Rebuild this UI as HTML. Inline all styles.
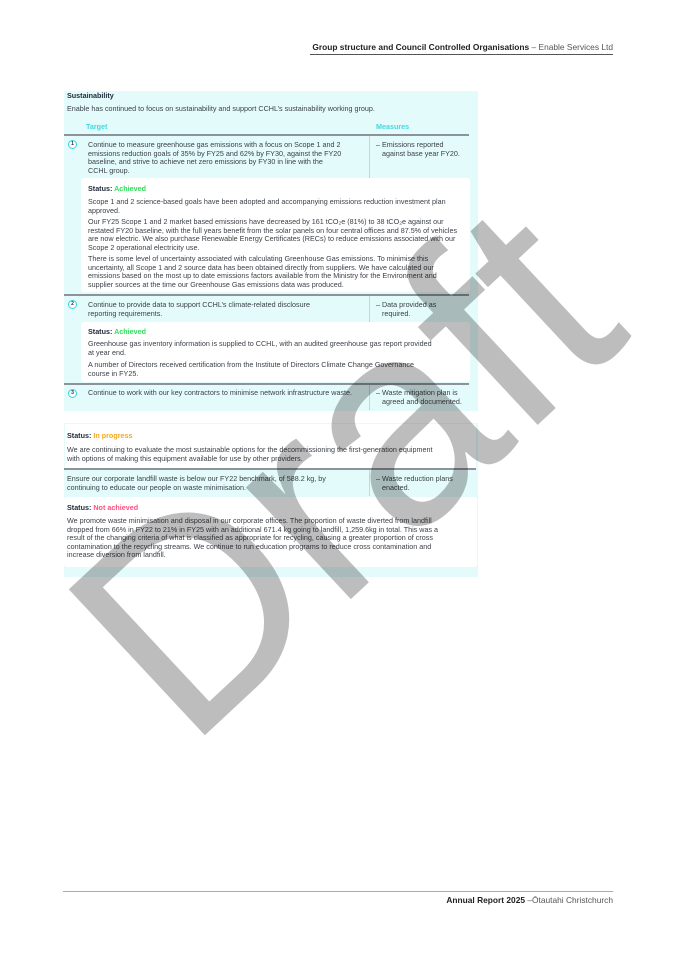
<!DOCTYPE html>
<html><head><meta charset="utf-8">
<style>
*{margin:0;padding:0;box-sizing:border-box}
body{width:675px;height:955px;background:#fff;position:relative;overflow:hidden;font-family:"Liberation Sans",sans-serif;color:#3a3f47}
.a{position:absolute;white-space:nowrap}
.t{font-size:7.2px;line-height:8.6px}
.b{font-weight:bold;color:#1d2838}
.cy{background:#e4fbfb}
.wh{background:#fff}
.ln{position:absolute;height:1.5px;background:#8d939b}
.vl{position:absolute;width:1px;background:#c8d4d6}
.circ{position:absolute;width:9px;height:9px;border:1.3px solid #35d6de;border-radius:50%;font-size:5px;font-weight:bold;text-align:center;line-height:6.5px;color:#1d2838;background:#fff}
.ach{color:#2fe05a}
</style></head><body>
<div class="a" style="right:62px;top:42px;font-size:8.4px;color:#222"><b>Group structure and Council Controlled Organisations</b> <span style="color:#555">– Enable Services Ltd</span></div>
<div style="position:absolute;left:310px;top:54px;width:303px;height:1px;background:#555"></div>

<!-- panel 1 -->
<div class="a cy" style="left:64px;top:91px;width:414px;height:320px"></div>
<div class="a t b" style="left:67px;top:92px">Sustainability</div>
<div class="a t" style="left:67px;top:105px">Enable has continued to focus on sustainability and support CCHL’s sustainability working group.</div>
<div class="a t b" style="left:86px;top:123px;color:#3fd9e0">Target</div>
<div class="a t b" style="left:376px;top:123px;color:#3fd9e0">Measures</div>
<div class="ln" style="left:64px;top:134px;width:405px"></div>
<div class="vl" style="left:369px;top:136px;height:42px"></div>
<div class="circ" style="left:68px;top:140px">1</div>
<div class="a t" style="left:88px;top:141px">Continue to measure greenhouse gas emissions with a focus on Scope 1 and 2<br>emissions reduction goals of 35% by FY25 and 62% by FY30, against the FY20<br>baseline, and strive to achieve net zero emissions by FY30 in line with the<br>CCHL group.</div>
<div class="a t" style="left:376px;top:141px">– Emissions reported<br>&nbsp;&nbsp;&nbsp;against base year FY20.</div>
<div class="a wh" style="left:81px;top:178px;width:389px;height:114px;border-radius:3px"></div>
<div class="a t b" style="left:88px;top:185px">Status: <span class="ach">Achieved</span></div>
<div class="a t" style="left:88px;top:198px">Scope 1 and 2 science-based goals have been adopted and accompanying emissions reduction investment plan<br>approved.</div>
<div class="a t" style="left:88px;top:218px">Our FY25 Scope 1 and 2 market based emissions have decreased by 161 tCO₂e (81%) to 38 tCO₂e against our<br>restated FY20 baseline, with the full years benefit from the solar panels on four central offices and 87.5% of vehicles<br>are now electric. We also purchase Renewable Energy Certificates (RECs) to reduce emissions associated with our<br>Scope 2 operational electricity use.</div>
<div class="a t" style="left:88px;top:255px">There is some level of uncertainty associated with calculating Greenhouse Gas emissions. To minimise this<br>uncertainty, all Scope 1 and 2 source data has been obtained directly from suppliers. We have calculated our<br>emissions based on the most up to date emissions factors available from the Ministry for the Environment and<br>supplier sources at the time our Greenhouse Gas emissions data was produced.</div>
<div class="ln" style="left:64px;top:294px;width:405px"></div>
<div class="vl" style="left:369px;top:296px;height:26px"></div>
<div class="circ" style="left:68px;top:300px">2</div>
<div class="a t" style="left:88px;top:301px">Continue to provide data to support CCHL’s climate-related disclosure<br>reporting requirements.</div>
<div class="a t" style="left:376px;top:301px">– Data provided as<br>&nbsp;&nbsp;&nbsp;required.</div>
<div class="a wh" style="left:81px;top:322px;width:389px;height:60px;border-radius:3px"></div>
<div class="a t b" style="left:88px;top:328px">Status: <span class="ach">Achieved</span></div>
<div class="a t" style="left:88px;top:340px">Greenhouse gas inventory information is supplied to CCHL, with an audited greenhouse gas report provided<br>at year end.</div>
<div class="a t" style="left:88px;top:361px">A number of Directors received certification from the Institute of Directors Climate Change Governance<br>course in FY25.</div>
<div class="ln" style="left:64px;top:383px;width:405px"></div>
<div class="vl" style="left:369px;top:385px;height:25px"></div>
<div class="circ" style="left:68px;top:389px">3</div>
<div class="a t" style="left:88px;top:389px">Continue to work with our key contractors to minimise network infrastructure waste.</div>
<div class="a t" style="left:376px;top:389px">– Waste mitigation plan is<br>&nbsp;&nbsp;&nbsp;agreed and documented.</div>

<!-- panel 2 -->
<div class="a cy" style="left:64px;top:423px;width:414px;height:154px"></div>
<div class="a wh" style="left:65px;top:424px;width:411px;height:44px"></div>
<div class="a t b" style="left:67px;top:432px">Status: <span style="color:#f7a81e">In progress</span></div>
<div class="a t" style="left:67px;top:446px">We are continuing to evaluate the most sustainable options for the decommissioning the first-generation equipment<br>with options of making this equipment available for use by other providers.</div>
<div class="ln" style="left:64px;top:468px;width:412px"></div>
<div class="vl" style="left:369px;top:470px;height:26px"></div>
<div class="a t" style="left:67px;top:475px">Ensure our corporate landfill waste is below our FY22 benchmark, of 588.2 kg, by<br>continuing to educate our people on waste minimisation.</div>
<div class="a t" style="left:376px;top:475px">– Waste reduction plans<br>&nbsp;&nbsp;&nbsp;enacted.</div>
<div class="a wh" style="left:64px;top:497px;width:413px;height:70px;border-radius:3px"></div>
<div class="a t b" style="left:67px;top:504px">Status: <span style="color:#ff4f7e">Not achieved</span></div>
<div class="a t" style="left:67px;top:517px">We promote waste minimisation and disposal in our corporate offices. The proportion of waste diverted from landfill<br>dropped from 66% in FY22 to 21% in FY25 with an additional 671.4 kg going to landfill, 1,259.6kg in total. This was a<br>result of the changing criteria of what is classified as appropriate for recycling, causing a greater proportion of cross<br>contamination to the recycling streams. We continue to run education programs to reduce cross contamination and<br>increase diversion from landfill.</div>

<!-- watermark -->
<svg style="position:absolute;left:0;top:0;mix-blend-mode:multiply" width="675" height="955">
<text transform="translate(188,751) rotate(-43) scale(0.97,1)" font-family="Liberation Sans, sans-serif" font-size="290" fill="#bdbdbd">Draft</text>
</svg>

<div style="position:absolute;left:63px;top:891px;width:550px;height:1px;background:#aaa"></div>
<div class="a" style="right:62px;top:895px;font-size:8.4px;color:#222"><b>Annual Report 2025</b> <span style="color:#555">–Ōtautahi Christchurch</span></div>
</body></html>
